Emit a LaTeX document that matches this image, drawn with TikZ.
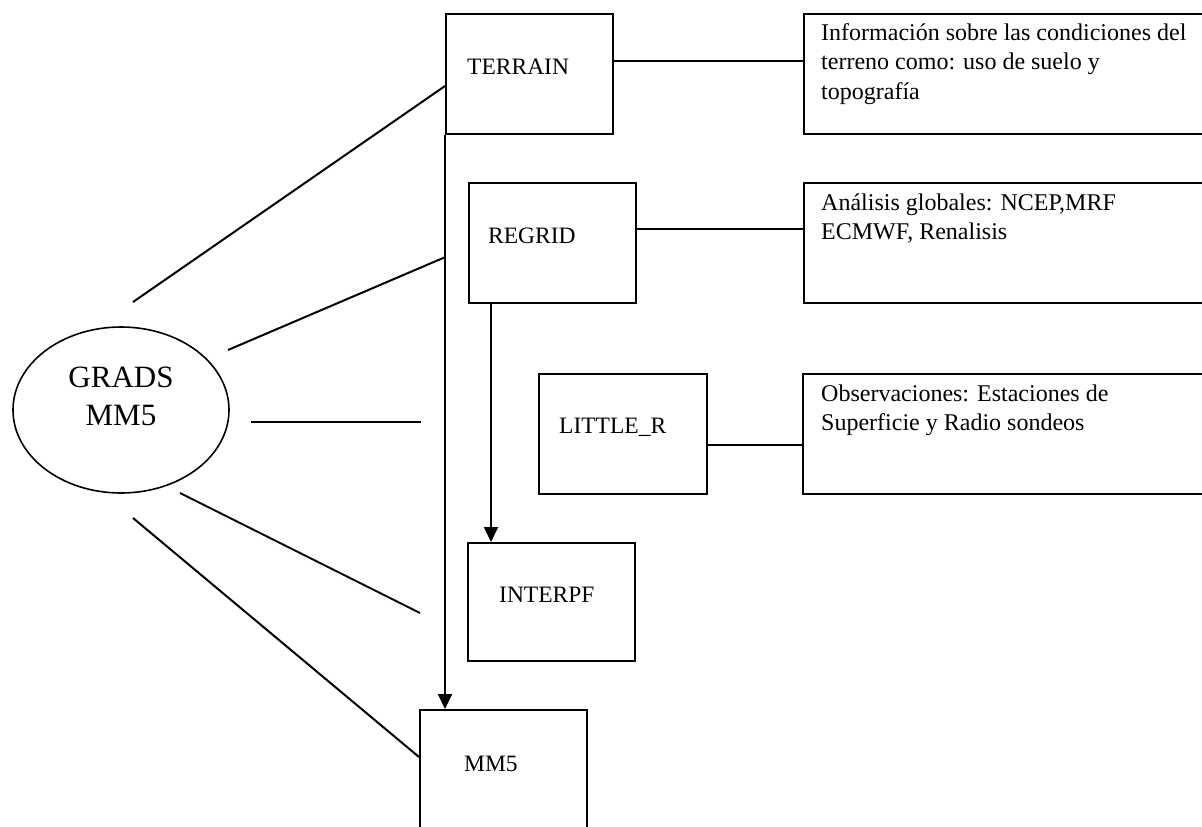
\documentclass[tikz,border=0pt]{standalone}
\usepackage{fontspec}
\setmainfont{Liberation Serif}
\usetikzlibrary{arrows.meta,calc,shapes.geometric}
\begin{document}
\begin{tikzpicture}[x=1pt,y=-1pt,
  box/.style={draw, line width=2.2pt, inner sep=0pt, anchor=north west},
  lbl/.style={anchor=base west, inner sep=0pt, font=\fontsize{23.5}{29.5}\selectfont},
  infotxt/.style={anchor=base west, inner sep=0pt, font=\fontsize{24}{29.5}\selectfont},
  big/.style={anchor=base, inner sep=0pt, font=\fontsize{31}{36}\selectfont},
  conn/.style={line width=2pt},
  arr/.style={line width=2pt, -{Triangle[length=15pt,width=14pt]}}
]
\clip (0,0) rectangle (1202,827);
\fill[white] (0,0) rectangle (1202,827);

% boxes
\node[box, minimum width=167pt, minimum height=120pt] (terrain) at (445,13) {};
\node[box, minimum width=167pt, minimum height=120pt] (regrid) at (468,182) {};
\node[box, minimum width=168pt, minimum height=120pt] (little) at (538,373) {};
\node[box, minimum width=167pt, minimum height=118pt] (interpf) at (467,542) {};
\node[box, minimum width=167pt, minimum height=140pt] (mm5) at (419,709) {};
\node[box, minimum width=412pt, minimum height=120pt] (info1) at (803,13) {};
\node[box, minimum width=412pt, minimum height=120pt] (info2) at (803,182) {};
\node[box, minimum width=413pt, minimum height=120pt] (info3) at (802,373) {};

% ellipse
\node[draw, ellipse, line width=1.6pt, minimum width=216pt, minimum height=166pt, inner sep=0pt] (grads) at (121,410) {};
\node[big] (gradsA) at (121,387) {GRADS};
\node[big] (gradsB) at (121,425) {MM5};

% box labels
\node[lbl] (terrainT) at (467,74) {TERRAIN};
\node[lbl] (regridT) at (488,243) {REGRID};
\node[lbl] (littleT) at (559,433) {LITTLE\_R};
\node[lbl] (interpfT) at (499,602) {INTERPF};
\node[lbl] (mm5T) at (464,771) {MM5};

\node[infotxt] (info1a) at (821,40) {Información sobre las condiciones del};
\node[infotxt] (info1b) at (821,69.5) {terreno como: uso de suelo y};
\node[infotxt] (info1c) at (821,99) {topografía};
\node[infotxt] (info2a) at (821,210) {Análisis globales: NCEP,MRF};
\node[infotxt] (info2b) at (821,239.5) {ECMWF, Renalisis};
\node[infotxt] (info3a) at (821,401) {Observaciones: Estaciones de};
\node[infotxt] (info3b) at (821,430.5) {Superficie y Radio sondeos};

% horizontal connectors to info boxes
\coordinate (t1) at ($(terrain.north east)+(0,48)$);
\draw[conn] (t1) -- (t1 -| info1.west);
\coordinate (r2) at ($(regrid.north east)+(0,47)$);
\draw[conn] (r2) -- (r2 -| info2.west);
\coordinate (l3) at ($(little.north east)+(0,72)$);
\draw[conn] (l3) -- (l3 -| info3.west);

% arrows
\draw[arr] (terrain.south west) -- (terrain.south west |- mm5.north);
\coordinate (r1) at ($(regrid.south west)+(23,0)$);
\draw[arr] (r1) -- (r1 |- interpf.north);

% lines from GRADS
\coordinate (g1) at (133,302);
\coordinate (g2) at (228,350);
\coordinate (g3) at (251,422);
\coordinate (g4) at (180,493);
\coordinate (g5) at (133,518);
\coordinate (e1) at ($(terrain.north west)+(0,73)$);
\coordinate (e2) at ($(terrain.south west)+(0,122)$);
\coordinate (e3) at (421,422);
\coordinate (e4) at (420,613);
\coordinate (e5) at ($(mm5.north west)+(0,48)$);
\draw[conn] (g1) -- (e1);
\draw[conn] (g2) -- (e2);
\draw[conn] (g3) -- (e3);
\draw[conn] (g4) -- (e4);
\draw[conn] (g5) -- (e5);
\end{tikzpicture}
\end{document}
